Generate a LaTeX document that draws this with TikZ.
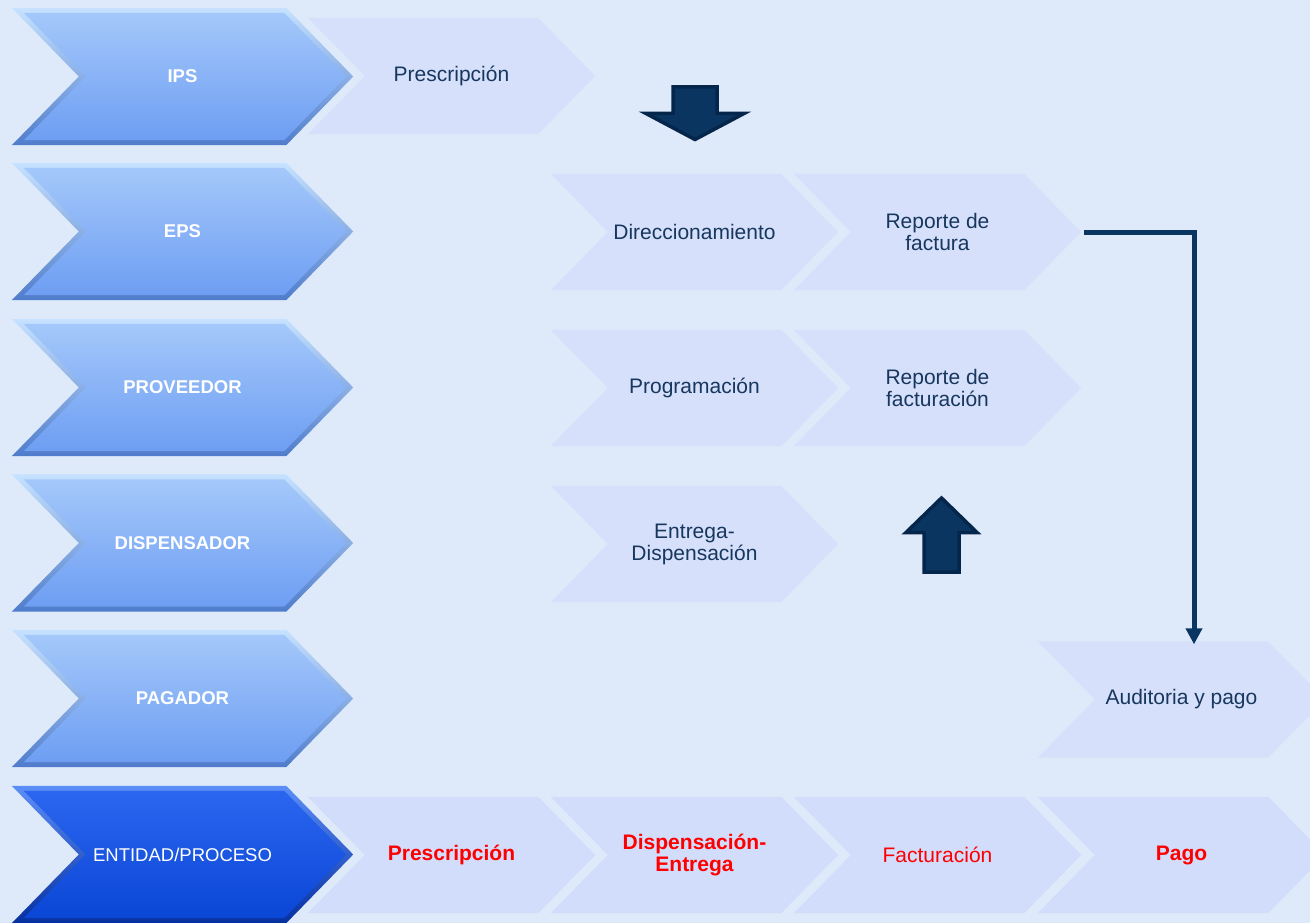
\documentclass[tikz,border=0pt]{standalone}
\usepackage{fontspec}
\setmainfont{Liberation Sans}
\usetikzlibrary{arrows.meta}
\definecolor{bgc}{HTML}{DEEAFA}
\definecolor{lchevc}{HTML}{D6E0FB}
\definecolor{lchevd}{HTML}{D2DCFB}
\definecolor{navy}{HTML}{0B3561}
\definecolor{navyd}{HTML}{04264A}
\definecolor{navytxt}{HTML}{17375E}
\definecolor{bluetopo}{HTML}{C6E2FF}
\definecolor{bluebоto}{HTML}{4F7CCB}
\definecolor{bluebot}{HTML}{4F7CCB}
\definecolor{bluetopi}{HTML}{A4C8FA}
\definecolor{bluebotin}{HTML}{6E9EF3}
\definecolor{darktopo}{HTML}{5C8EF8}
\definecolor{darkboto}{HTML}{0630A0}
\definecolor{darktopi}{HTML}{2A66EF}
\definecolor{darkboti}{HTML}{0B47D6}
\definecolor{redtxt}{HTML}{FF0000}
\pgfdeclarelayer{bg}
\pgfsetlayers{bg,main}
\newcommand\lchev[2]{%
  \fill[#1] (#2.north west) -- ([xshift=-57pt]#2.north east) -- (#2.east)
    -- ([xshift=-57pt]#2.south east) -- (#2.south west) -- ([xshift=57pt]#2.west) -- cycle;}
\newcommand\bchev[5]{%
  \shade[top color=#2,bottom color=#3] (#1.north west) -- ([xshift=-67pt]#1.north east) -- (#1.east)
    -- ([xshift=-67pt]#1.south east) -- (#1.south west) -- ([xshift=67pt]#1.west) -- cycle;
  \shade[top color=#4,bottom color=#5] ([xshift=12pt,yshift=-5pt]#1.north west)
    -- ([xshift=-69pt,yshift=-5pt]#1.north east) -- ([xshift=-7pt]#1.east)
    -- ([xshift=-69pt,yshift=5pt]#1.south east) -- ([xshift=12pt,yshift=5pt]#1.south west)
    -- ([xshift=74pt]#1.west) -- cycle;}
\begin{document}
\begin{tikzpicture}[x=1pt,y=-1pt,
  lbox/.style={minimum width=287pt, minimum height=116pt, inner sep=0pt, text=navytxt,
    font=\fontsize{21}{22}\selectfont, align=center},
  rbox/.style={lbox, text=redtxt},
  rboxb/.style={lbox, text=redtxt, font=\fontsize{21}{22}\selectfont\bfseries},
  bbox/.style={minimum width=341pt, minimum height=137pt, inner sep=0pt, text=white,
    font=\fontsize{18.5}{20}\selectfont\bfseries, align=center},
  blockarrow/.style={fill=navy, draw=navyd, line width=3.5pt, line join=miter},
  conn/.style={draw=navy, line width=5pt, line join=miter, -{Triangle[length=16pt,width=16pt]}}
]
\useasboundingbox (0,0) rectangle (1310,923);
% process chevrons
\node[lbox] (presc) at (451.5,76) {Prescripción};
\node[lbox] (direc) at (694.5,232) {Direccionamiento};
\node[lbox] (repfac) at (937.5,232) {Reporte de\\factura};
\node[lbox] (prog) at (694.5,388) {Programación};
\node[lbox] (repfact) at (937.5,388) {Reporte de\\facturación};
\node[lbox] (entrega) at (694.5,544) {Entrega-\\Dispensación};
\node[lbox] (audit) at (1181.5,699.5) {Auditoria y pago};
\node[rboxb] (bpresc) at (451.5,855) {Prescripción};
\node[rboxb] (bdisp) at (694.5,855) {Dispensación-\\Entrega};
\node[rbox] (bfact) at (937.5,855) {Facturación};
\node[rboxb] (bpago) at (1181.5,855) {Pago};
% entity chevrons
\node[bbox] (ips) at (182.5,76.5) {IPS};
\node[bbox] (eps) at (182.5,231.5) {EPS};
\node[bbox] (prov) at (182.5,387.5) {PROVEEDOR};
\node[bbox] (disp) at (182.5,543) {DISPENSADOR};
\node[bbox] (pag) at (182.5,698.5) {PAGADOR};
\node[bbox, font=\fontsize{18.5}{20}\selectfont] (ent) at (182.5,854.5) {ENTIDAD/PROCESO};
\begin{pgfonlayer}{bg}
  \fill[bgc] (0,0) rectangle (1310,923);
  \foreach \n in {presc,direc,repfac,prog,repfact,entrega,audit} {\lchev{lchevc}{\n}}
  \foreach \n in {bpresc,bdisp,bfact,bpago} {\lchev{lchevd}{\n}}
  \foreach \n in {ips,eps,prov,disp,pag} {\bchev{\n}{bluetopo}{bluebot}{bluetopi}{bluebotin}}
  \bchev{ent}{darktopo}{darkboto}{darktopi}{darkboti}
\end{pgfonlayer}
% block arrows
\path[blockarrow] (673,87) -- (717,87) -- (717,113.5) -- (744,113.5) -- (695,139.5)
  -- (646,113.5) -- (673,113.5) -- cycle;
\path[blockarrow] (941.5,498) -- (977,532.5) -- (959,532.5) -- (959,572) -- (924,572)
  -- (924,532.5) -- (906,532.5) -- cycle;
% connector
\draw[conn] ([xshift=3pt]repfac.east) -| ([xshift=12.5pt,yshift=-3pt]audit.north);
\end{tikzpicture}
\end{document}
